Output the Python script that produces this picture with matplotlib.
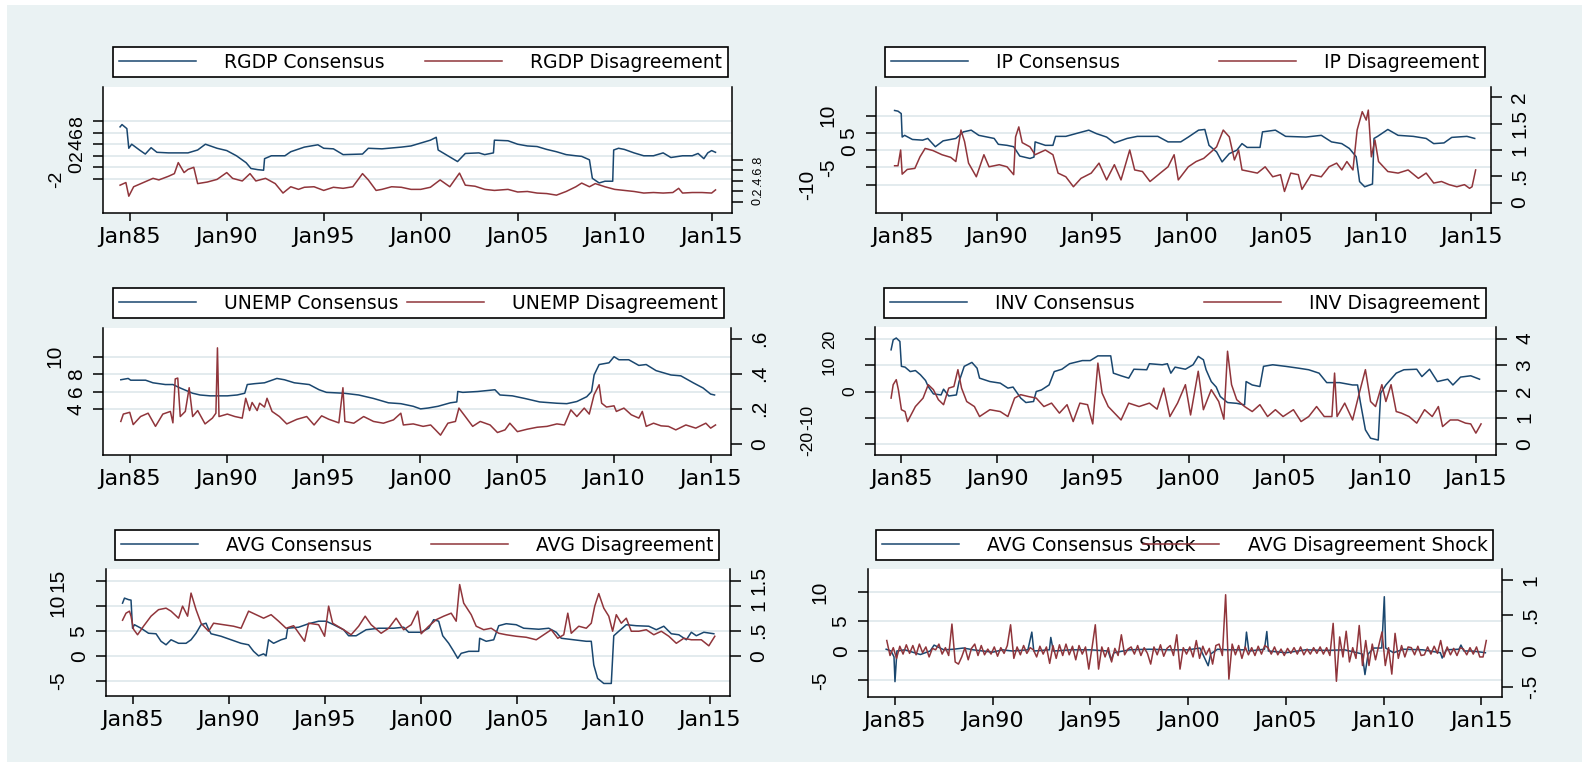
import matplotlib
matplotlib.use("Agg")
import matplotlib.pyplot as plt
from matplotlib.patches import Rectangle
from matplotlib.transforms import ScaledTranslation

plt.rcParams['font.family'] = ['DejaVu Sans']

# ---------------- data (decimal years) ----------------
rgdp_cons_t = [1984.5, 1984.6, 1984.85, 1984.95, 1985.1, 1985.5, 1985.8, 1986.1, 1986.4, 1987.0, 1988.0, 1988.5,
               1988.9, 1989.5, 1990.0, 1990.5, 1991.0, 1991.25, 1991.6, 1991.9, 1991.95, 1992.3, 1993.0, 1993.3,
               1994.0, 1994.7, 1995.0, 1995.5, 1996.0, 1997.0, 1997.3, 1998.0, 1999.0, 1999.5, 2000.0, 2000.5,
               2000.8, 2000.9, 2001.4, 2001.9, 2002.3, 2003.0, 2003.3, 2003.75, 2003.8, 2004.5, 2005.0, 2005.5,
               2006.0, 2006.5, 2007.0, 2007.5, 2008.0, 2008.3, 2008.7, 2008.85, 2009.2, 2009.5, 2009.9, 2009.95,
               2010.2, 2010.5, 2011.0, 2011.5, 2012.0, 2012.5, 2012.9, 2013.5, 2014.0, 2014.3, 2014.6, 2014.8,
               2015.0, 2015.2]
rgdp_cons_v = [7.0, 7.4, 6.7, 3.3, 4.0, 3.0, 2.3, 3.4, 2.6, 2.5, 2.5, 3.0,
               4.0, 3.3, 2.9, 2.0, 0.8, -0.2, -0.4, -0.5, 1.5, 2.0, 2.0, 2.7,
               3.5, 3.9, 3.3, 3.2, 2.2, 2.3, 3.3, 3.2, 3.5, 3.7, 4.2, 4.7,
               5.2, 3.0, 2.0, 1.0, 2.4, 2.5, 2.2, 2.5, 4.7, 4.6, 4.0, 3.7,
               3.6, 3.1, 2.7, 2.2, 2.0, 1.9, 1.3, -1.9, -2.7, -2.4, -2.4, 3.0,
               3.3, 3.1, 2.5, 2.0, 2.0, 2.5, 1.7, 2.0, 2.0, 2.4, 1.5, 2.5,
               2.9, 2.6]
rgdp_dis_t = [1984.5, 1984.8, 1984.95, 1985.2, 1985.7, 1986.2, 1986.5, 1987.0, 1987.3, 1987.5, 1987.8, 1988.0,
              1988.3, 1988.5, 1989.0, 1989.5, 1990.0, 1990.3, 1990.8, 1991.2, 1991.5, 1992.0, 1992.5, 1992.9,
              1993.3, 1993.7, 1994.0, 1994.5, 1995.0, 1995.5, 1996.0, 1996.5, 1997.0, 1997.3, 1997.7, 1998.0,
              1998.5, 1999.0, 1999.5, 2000.0, 2000.5, 2001.0, 2001.5, 2002.0, 2002.3, 2002.8, 2003.3, 2003.8,
              2004.5, 2005.0, 2005.5, 2006.0, 2006.5, 2007.0, 2007.5, 2008.0, 2008.3, 2008.7, 2009.0, 2009.5,
              2010.0, 2010.5, 2011.0, 2011.5, 2012.0, 2012.5, 2013.0, 2013.3, 2013.5, 2014.0, 2014.5, 2015.0,
              2015.2]
rgdp_dis_v = [0.32, 0.37, 0.11, 0.29, 0.37, 0.45, 0.42, 0.49, 0.54, 0.75, 0.56, 0.62,
              0.66, 0.35, 0.38, 0.43, 0.56, 0.45, 0.40, 0.54, 0.40, 0.45, 0.35, 0.17,
              0.29, 0.24, 0.28, 0.29, 0.22, 0.28, 0.26, 0.29, 0.54, 0.42, 0.22, 0.24,
              0.29, 0.28, 0.24, 0.24, 0.28, 0.42, 0.29, 0.55, 0.32, 0.30, 0.24, 0.22,
              0.24, 0.19, 0.20, 0.17, 0.16, 0.13, 0.20, 0.29, 0.36, 0.29, 0.35, 0.29,
              0.24, 0.22, 0.20, 0.17, 0.18, 0.17, 0.18, 0.26, 0.17, 0.18, 0.18, 0.17,
              0.23]

ip_cons_t = [1984.6, 1984.78, 1984.95, 1985.0, 1985.13, 1985.54, 1986.08, 1986.35, 1986.75, 1987.16, 1987.83,
             1988.23, 1988.64, 1989.04, 1989.85, 1990.07, 1990.53, 1990.88, 1991.2, 1991.74, 1991.95, 1992.01,
             1992.55, 1992.95, 1993.09, 1993.63, 1994.16, 1994.84, 1995.24, 1995.78, 1996.19, 1996.86, 1997.4,
             1998.48, 1999.02, 1999.69, 2000.09, 2000.63, 2000.96, 2001.18, 2001.58, 2001.87, 2002.25, 2002.65,
             2002.92, 2003.19, 2003.87, 2004.0, 2004.68, 2005.22, 2006.29, 2007.1, 2007.64, 2008.18, 2008.58,
             2008.94, 2009.12, 2009.39, 2009.8, 2009.88, 2010.07, 2010.61, 2011.15, 2011.95, 2012.63, 2013.03,
             2013.57, 2013.98, 2014.78, 2015.19]
ip_cons_v = [11.5, 11.3, 10.6, 3.8, 4.3, 3.1, 2.9, 3.4, 1.0, 2.7, 3.4,
             5.3, 5.8, 4.3, 3.4, 1.7, 1.4, 1.0, -1.7, -2.4, -2.0, 2.4,
             1.4, 1.4, 4.0, 4.0, 4.8, 5.8, 4.8, 3.8, 2.1, 3.4, 4.0,
             4.0, 2.4, 2.4, 3.8, 5.8, 6.0, 1.4, -0.5, -3.4, -1.0, 0.0,
             1.9, 0.8, 0.8, 5.3, 5.8, 4.0, 3.8, 4.3, 2.4, 1.9, 0.5,
             -1.9, -9.1, -10.6, -9.8, 3.4, 4.0, 6.0, 4.3, 4.0, 3.4, 1.9,
             2.1, 3.7, 4.0, 3.4]
ip_dis_t = [1984.6, 1984.78, 1984.92, 1985.0, 1985.27, 1985.67, 1985.94, 1986.21, 1986.62, 1987.1, 1987.56,
            1987.83, 1988.1, 1988.29, 1988.5, 1988.91, 1989.31, 1989.58, 1990.12, 1990.53, 1990.88, 1990.98,
            1991.15, 1991.33, 1991.74, 1992.01, 1992.55, 1992.95, 1993.22, 1993.63, 1994.03, 1994.43, 1994.97,
            1995.38, 1995.78, 1996.19, 1996.54, 1997.0, 1997.26, 1997.67, 1998.07, 1998.61, 1999.02, 1999.34,
            1999.56, 2000.09, 2000.5, 2000.9, 2001.31, 2001.58, 2001.93, 2002.25, 2002.52, 2002.74, 2002.92,
            2003.33, 2003.73, 2004.14, 2004.54, 2004.95, 2005.16, 2005.49, 2005.89, 2006.08, 2006.56, 2007.1,
            2007.51, 2007.91, 2008.18, 2008.45, 2008.77, 2008.99, 2009.26, 2009.47, 2009.58, 2009.74, 2009.93,
            2010.12, 2010.61, 2011.15, 2011.68, 2012.22, 2012.63, 2013.03, 2013.44, 2013.84, 2014.25, 2014.65,
            2014.92, 2015.05, 2015.24]
ip_dis_v = [0.70, 0.70, 1.00, 0.54, 0.63, 0.65, 0.87, 1.03, 0.99, 0.91, 0.86,
            0.78, 1.38, 1.16, 0.75, 0.49, 0.91, 0.68, 0.72, 0.68, 0.53, 1.25,
            1.44, 1.14, 1.06, 0.91, 1.00, 0.91, 0.56, 0.49, 0.30, 0.46, 0.56,
            0.75, 0.43, 0.72, 0.43, 1.00, 0.62, 0.59, 0.40, 0.56, 0.68, 0.91,
            0.43, 0.68, 0.78, 0.84, 0.97, 1.06, 1.38, 1.25, 0.81, 1.00, 0.62,
            0.59, 0.56, 0.68, 0.49, 0.53, 0.21, 0.56, 0.53, 0.25, 0.53, 0.49,
            0.68, 0.75, 0.62, 0.78, 0.62, 1.38, 1.73, 1.57, 1.76, 0.87, 1.19,
            0.78, 0.59, 0.56, 0.62, 0.46, 0.56, 0.37, 0.40, 0.34, 0.30, 0.34,
            0.27, 0.30, 0.62]

unemp_cons_t = [1984.54, 1984.92, 1985.05, 1985.82, 1986.2, 1986.84, 1987.23, 1987.61, 1988.25, 1988.63, 1989.15,
                1990.04, 1990.55, 1990.94, 1991.07, 1991.45, 1991.96, 1992.6, 1992.99, 1993.5, 1994.27, 1994.78,
                1995.16, 1996.06, 1996.82, 1997.59, 1998.36, 1999.0, 1999.64, 2000.02, 2000.41, 2000.92, 2001.56,
                2001.89, 2001.94, 2002.2, 2002.97, 2003.86, 2004.12, 2004.76, 2005.4, 2006.17, 2007.06, 2007.57,
                2008.09, 2008.6, 2008.85, 2008.98, 2009.24, 2009.75, 2010.01, 2010.26, 2010.77, 2011.29, 2011.67,
                2012.18, 2012.95, 2013.46, 2014.1, 2014.61, 2015.0, 2015.2]
unemp_cons_v = [7.35, 7.5, 7.3, 7.3, 7.0, 6.8, 6.8, 6.4, 5.8, 5.6, 5.5,
                5.5, 5.6, 5.8, 6.8, 6.9, 7.0, 7.5, 7.35, 7.0, 6.8, 6.2,
                5.9, 5.8, 5.6, 5.2, 4.7, 4.6, 4.3, 4.0, 4.1, 4.3, 4.7,
                4.8, 6.0, 5.9, 6.0, 6.2, 5.6, 5.5, 5.2, 4.8, 4.65, 4.6,
                4.85, 5.4, 6.0, 7.9, 9.1, 9.3, 10.0, 9.65, 9.65, 9.0, 9.1,
                8.4, 7.9, 7.8, 7.0, 6.4, 5.7, 5.6]
unemp_dis_t = [1984.54, 1984.67, 1985.0, 1985.18, 1985.56, 1985.95, 1986.33, 1986.71, 1987.1, 1987.23, 1987.35,
               1987.48, 1987.61, 1987.87, 1988.07, 1988.25, 1988.51, 1988.89, 1989.27, 1989.45, 1989.53, 1989.61,
               1990.04, 1990.43, 1990.81, 1990.99, 1991.19, 1991.32, 1991.58, 1991.71, 1991.96, 1992.09, 1992.35,
               1992.73, 1993.11, 1993.63, 1994.14, 1994.52, 1994.91, 1995.29, 1995.8, 1996.01, 1996.11, 1996.57,
               1997.08, 1997.59, 1998.1, 1998.62, 1999.0, 1999.13, 1999.64, 2000.15, 2000.54, 2000.79, 2001.05,
               2001.43, 2001.82, 2002.0, 2002.33, 2002.71, 2003.1, 2003.61, 2003.99, 2004.38, 2004.63, 2005.02,
               2005.53, 2006.04, 2006.55, 2007.06, 2007.45, 2007.78, 2008.09, 2008.47, 2008.73, 2008.98, 2009.24,
               2009.37, 2009.62, 2010.01, 2010.13, 2010.52, 2010.9, 2011.29, 2011.47, 2011.67, 2012.05, 2012.44,
               2012.82, 2013.2, 2013.72, 2014.23, 2014.75, 2015.0, 2015.25]
unemp_dis_v = [0.128, 0.17, 0.18, 0.11, 0.156, 0.175, 0.10, 0.17, 0.185, 0.12, 0.37,
               0.375, 0.156, 0.185, 0.32, 0.156, 0.19, 0.114, 0.147, 0.175, 0.547, 0.156,
               0.17, 0.156, 0.147, 0.26, 0.19, 0.236, 0.19, 0.232, 0.21, 0.26, 0.185,
               0.156, 0.114, 0.14, 0.156, 0.108, 0.16, 0.14, 0.12, 0.32, 0.128, 0.118,
               0.156, 0.128, 0.118, 0.137, 0.175, 0.108, 0.114, 0.10, 0.108, 0.08, 0.05,
               0.118, 0.128, 0.204, 0.156, 0.10, 0.128, 0.108, 0.065, 0.08, 0.118, 0.07,
               0.084, 0.095, 0.10, 0.114, 0.108, 0.194, 0.156, 0.204, 0.17, 0.28, 0.337,
               0.232, 0.21, 0.217, 0.185, 0.204, 0.166, 0.147, 0.185, 0.10, 0.118, 0.103,
               0.10, 0.08, 0.108, 0.09, 0.118, 0.09, 0.108]

inv_cons_t = [1984.46, 1984.57, 1984.73, 1984.92, 1985.0, 1985.19, 1985.46, 1985.73, 1985.99, 1986.26, 1986.4,
              1986.67, 1987.07, 1987.2, 1987.47, 1987.87, 1988.01, 1988.28, 1988.68, 1988.95, 1989.08, 1989.62,
              1990.16, 1990.56, 1990.83, 1991.23, 1991.5, 1991.9, 1992.04, 1992.31, 1992.71, 1992.98, 1993.38,
              1993.78, 1994.45, 1994.86, 1995.26, 1995.93, 1996.07, 1996.47, 1996.87, 1997.14, 1997.81, 1997.95,
              1998.62, 1998.89, 1999.07, 1999.29, 1999.83, 2000.23, 2000.5, 2000.77, 2000.91, 2001.18, 2001.44,
              2001.65, 2002.03, 2002.51, 2002.92, 2003.0, 2003.32, 2003.72, 2003.91, 2004.39, 2005.06, 2005.74,
              2006.27, 2006.81, 2007.21, 2007.88, 2008.56, 2008.82, 2008.96, 2009.23, 2009.5, 2009.9, 2010.03,
              2010.3, 2010.84, 2011.24, 2011.91, 2012.18, 2012.58, 2012.99, 2013.53, 2013.8, 2014.2, 2014.73,
              2015.19]
inv_cons_v = [15.9, 19.7, 20.4, 19.1, 9.6, 9.3, 7.6, 8.0, 6.4, 4.2, 1.9,
              -0.9, -1.3, 0.9, -1.7, -1.3, 3.8, 9.6, 11.1, 8.9, 5.1, 3.8,
              3.2, 1.3, 1.7, -2.5, -4.2, -3.8, 0.0, 0.6, 2.5, 7.6, 8.5,
              10.6, 11.8, 11.8, 13.6, 13.6, 7.0, 6.0, 5.1, 8.5, 8.3, 10.6,
              10.2, 10.6, 7.0, 9.3, 8.5, 10.2, 13.4, 12.1, 8.3, 3.8, 1.7,
              -1.9, -4.2, -4.5, -5.1, 3.8, 2.5, 1.9, 9.6, 10.2, 9.6, 8.9,
              8.3, 7.0, 3.4, 3.4, 2.5, 2.5, -3.8, -14.6, -17.8, -18.5, -0.6,
              2.5, 7.0, 8.3, 8.5, 5.7, 8.5, 3.8, 4.7, 2.5, 5.5, 6.0,
              4.7]
inv_dis_t = [1984.46, 1984.57, 1984.73, 1984.84, 1985.0, 1985.19, 1985.32, 1985.73, 1986.13, 1986.4, 1986.67,
             1986.93, 1987.2, 1987.47, 1987.74, 1987.95, 1988.14, 1988.41, 1988.81, 1989.08, 1989.62, 1990.16,
             1990.56, 1990.91, 1991.23, 1991.63, 1992.04, 1992.44, 1992.84, 1993.25, 1993.65, 1993.97, 1994.32,
             1994.72, 1994.99, 1995.26, 1995.48, 1995.8, 1996.47, 1996.87, 1997.41, 1997.95, 1998.35, 1998.7,
             1999.02, 1999.42, 1999.83, 2000.1, 2000.5, 2000.77, 2001.18, 2001.57, 2001.84, 2002.03, 2002.24,
             2002.51, 2002.92, 2003.32, 2003.72, 2004.12, 2004.53, 2004.93, 2005.47, 2005.87, 2006.27, 2006.68,
             2007.08, 2007.48, 2007.62, 2007.75, 2008.15, 2008.56, 2008.91, 2009.23, 2009.5, 2009.76, 2010.09,
             2010.3, 2010.57, 2010.84, 2011.11, 2011.51, 2011.91, 2012.32, 2012.72, 2013.04, 2013.26, 2013.66,
             2014.06, 2014.46, 2014.73, 2015.0, 2015.27]
inv_dis_v = [1.74, 2.25, 2.44, 2.06, 1.30, 1.23, 0.85, 1.42, 1.74, 2.25, 2.06,
             1.68, 1.49, 2.12, 2.18, 2.82, 2.12, 1.61, 1.42, 1.04, 1.30, 1.23,
             1.04, 1.74, 1.87, 1.80, 1.74, 1.42, 1.55, 1.17, 1.49, 0.85, 1.55,
             1.49, 0.76, 3.07, 1.93, 1.42, 0.91, 1.55, 1.42, 1.55, 1.32, 2.12,
             1.04, 1.55, 2.25, 1.10, 2.76, 1.30, 2.06, 1.61, 0.94, 3.52, 2.25,
             1.68, 1.42, 1.23, 1.49, 1.04, 1.30, 1.04, 1.30, 0.85, 1.04, 1.42,
             1.04, 1.04, 2.69, 1.04, 1.55, 0.91, 1.93, 2.82, 1.61, 1.42, 2.25,
             1.61, 2.25, 1.23, 1.17, 1.04, 0.79, 1.30, 1.04, 1.42, 0.66, 0.91,
             0.91, 0.79, 0.76, 0.41, 0.76]

avg_cons_t = [1984.48, 1984.58, 1984.79, 1984.92, 1985.0, 1985.1, 1985.44, 1985.83, 1986.22, 1986.48, 1986.74,
              1987.0, 1987.39, 1987.78, 1988.04, 1988.3, 1988.56, 1988.82, 1988.95, 1989.08, 1989.6, 1990.12,
              1990.64, 1991.03, 1991.29, 1991.55, 1991.81, 1991.94, 1992.07, 1992.33, 1992.72, 1992.98, 1993.06,
              1993.63, 1994.15, 1994.67, 1995.06, 1995.45, 1995.97, 1996.23, 1996.62, 1997.14, 1997.79, 1998.57,
              1999.09, 1999.35, 2000.0, 2000.39, 2000.65, 2000.91, 2001.12, 2001.43, 2001.69, 2001.9, 2002.08,
              2002.47, 2002.99, 2003.04, 2003.38, 2003.77, 2004.03, 2004.42, 2004.94, 2005.33, 2006.11, 2006.63,
              2007.02, 2007.28, 2007.93, 2008.58, 2008.84, 2008.97, 2009.17, 2009.49, 2009.88, 2010.01, 2010.27,
              2010.66, 2011.18, 2011.83, 2012.22, 2012.61, 2013.0, 2013.39, 2013.78, 2014.04, 2014.3, 2014.69,
              2015.21]
avg_cons_v = [10.5, 11.5, 11.2, 11.1, 5.5, 6.2, 5.5, 4.5, 4.4, 2.9, 2.2,
              3.2, 2.5, 2.5, 3.2, 4.5, 6.2, 6.5, 5.3, 4.4, 3.9, 3.2,
              2.5, 2.2, 0.9, 0.0, 0.4, 0.0, 3.2, 2.5, 3.2, 3.5, 5.5,
              5.7, 6.4, 6.9, 6.9, 6.2, 5.2, 4.0, 4.0, 5.2, 5.5, 5.5,
              5.7, 4.7, 4.7, 5.5, 7.2, 6.9, 4.0, 2.5, 0.9, -0.5, 0.5,
              0.9, 0.9, 3.5, 2.9, 3.2, 6.0, 6.4, 6.2, 5.5, 5.3, 5.5,
              4.7, 3.5, 3.2, 2.9, 2.9, -1.8, -4.5, -5.5, -5.5, 4.0, 4.9,
              6.2, 6.0, 5.9, 5.2, 5.9, 4.4, 4.2, 3.2, 4.7, 4.0, 4.7,
              4.4]
avg_dis_t = [1984.48, 1984.66, 1984.84, 1984.92, 1985.05, 1985.26, 1985.57, 1985.96, 1986.35, 1986.74, 1987.0,
             1987.39, 1987.6, 1987.86, 1988.04, 1988.3, 1988.56, 1988.95, 1989.21, 1989.73, 1990.25, 1990.64,
             1991.03, 1991.42, 1991.81, 1992.2, 1992.59, 1992.98, 1993.37, 1993.94, 1994.15, 1994.67, 1994.98,
             1995.19, 1995.4, 1995.97, 1996.36, 1996.75, 1997.09, 1997.4, 1997.92, 1998.31, 1998.7, 1999.09,
             1999.48, 1999.82, 2000.0, 2000.39, 2000.78, 2001.17, 2001.56, 2001.82, 2002.0, 2002.21, 2002.6,
             2002.86, 2003.25, 2003.64, 2004.03, 2004.42, 2004.94, 2005.46, 2005.98, 2006.37, 2006.76, 2007.1,
             2007.41, 2007.62, 2007.8, 2008.19, 2008.58, 2008.84, 2009.02, 2009.23, 2009.49, 2009.75, 2009.95,
             2010.14, 2010.4, 2010.66, 2010.92, 2011.31, 2011.7, 2012.09, 2012.48, 2012.87, 2013.26, 2013.65,
             2014.04, 2014.56, 2014.95, 2015.26]
avg_dis_v = [0.71, 0.85, 0.89, 0.79, 0.53, 0.42, 0.59, 0.79, 0.92, 0.95, 0.89,
             0.75, 0.99, 0.79, 1.25, 0.92, 0.65, 0.49, 0.65, 0.62, 0.59, 0.55,
             0.89, 0.82, 0.75, 0.82, 0.69, 0.55, 0.60, 0.29, 0.65, 0.62, 0.39,
             0.99, 0.65, 0.52, 0.42, 0.59, 0.79, 0.62, 0.45, 0.55, 0.75, 0.52,
             0.62, 0.89, 0.44, 0.59, 0.72, 0.79, 0.85, 0.69, 1.42, 1.05, 0.82,
             0.59, 0.52, 0.55, 0.45, 0.42, 0.39, 0.37, 0.32, 0.42, 0.52, 0.35,
             0.42, 0.85, 0.45, 0.59, 0.55, 0.65, 0.99, 1.24, 0.95, 0.79, 0.49,
             0.82, 0.65, 0.75, 0.49, 0.49, 0.52, 0.42, 0.49, 0.39, 0.25, 0.35,
             0.32, 0.32, 0.20, 0.39]

shock_cons_t = [1984.55, 1984.8, 1984.95, 1985.0, 1985.1, 1985.5, 1986.0, 1986.3, 1986.8, 1987.0, 1987.5,
                1988.0, 1988.5, 1989.0, 1990.0, 1990.5, 1991.0, 1991.8, 1992.0, 1992.1, 1992.9, 1992.97,
                1993.1, 1994.0, 1995.0, 1995.9, 1996.05, 1996.2, 1997.0, 1998.0, 1999.0, 2000.0, 2000.6,
                2001.02, 2001.15, 2001.5, 2002.0, 2002.9, 2002.98, 2003.1, 2003.9, 2004.02, 2004.1, 2005.0,
                2006.0, 2007.0, 2008.0, 2008.9, 2009.04, 2009.2, 2009.5, 2009.9, 2010.03, 2010.1, 2010.5,
                2011.0, 2012.0, 2012.9, 2012.99, 2013.2, 2013.85, 2013.95, 2014.1, 2014.5, 2015.0, 2015.2]
shock_cons_v = [0.3, 0.0, -1.0, -5.2, 0.0, 0.2, -0.3, -0.6, 0.0, 1.0, 0.2,
                0.3, 0.5, 0.2, -0.2, 0.2, 0.0, 0.2, 3.2, 0.0, 0.2, 2.3,
                0.0, 0.2, 0.2, 0.0, -1.5, -0.3, 0.2, 0.3, 0.2, 0.2, 0.5,
                -2.5, -0.5, 0.3, 0.2, 0.2, 3.2, 0.0, 0.3, 3.3, 0.0, -0.3,
                0.2, 0.1, 0.2, -0.5, -4.0, -0.5, 0.5, 0.5, 9.2, 0.5, -0.3,
                0.3, 0.2, -0.3, -1.2, 0.2, 0.3, 1.0, 0.0, 0.0, -0.2, -0.3]
# disagreement shock, every two months from Aug 1984
shock_dis_start = 1984.58
shock_dis_v = [0.15, -0.06, 0.05,
               -0.10, 0.07, -0.04, 0.09, -0.03, 0.08,
               -0.05, 0.10, -0.02, 0.06, -0.08, 0.04,
               0.02, 0.10, -0.04, 0.05, -0.06, 0.38,
               -0.15, -0.18, -0.08, 0.05, -0.12, 0.04,
               0.10, -0.06, 0.08, -0.05, 0.03, -0.04,
               0.06, -0.07, 0.05, -0.03, 0.08, 0.37,
               -0.10, 0.06, -0.05, 0.08, -0.03, 0.05,
               0.02, -0.08, 0.07, -0.04, 0.06, -0.17,
               0.08, -0.10, 0.09, -0.06, 0.10, -0.05,
               0.07, -0.12, 0.08, -0.04, 0.06, -0.25,
               0.05, 0.37, -0.25, 0.06, -0.08, 0.05,
               -0.15, 0.04, -0.06, 0.23, -0.05, 0.03,
               0.06, -0.04, 0.08, -0.06, 0.05, -0.03,
               -0.18, 0.06, -0.05, 0.09, -0.07, 0.04,
               0.08, -0.06, 0.23, -0.25, 0.05, -0.04,
               0.06, -0.08, 0.15, -0.10, 0.07, -0.05,
               0.04, -0.18, 0.08, 0.10, -0.06, 0.79,
               -0.39, 0.10, -0.05, 0.08, -0.10, 0.06,
               -0.05, 0.05, -0.06, 0.07, -0.04, 0.08,
               0.05, -0.04, 0.06, -0.05, 0.03, -0.06,
               0.04, -0.03, 0.05, -0.04, 0.06, -0.05,
               0.03, -0.04, 0.05, -0.03, 0.06, -0.04,
               0.05, -0.06, 0.39, -0.42, 0.20, -0.08,
               0.28, -0.15, 0.05, -0.10, 0.36, -0.20,
               0.15, -0.20, 0.10, -0.12, 0.08, 0.27,
               -0.20, 0.05, -0.32, 0.25, -0.10, 0.08,
               -0.08, 0.06, 0.05, -0.05, 0.07, -0.06,
               -0.05, 0.06, -0.04, 0.07, -0.03, 0.15,
               -0.08, 0.06, -0.05, 0.04, -0.06, 0.05,
               0.03, -0.05, 0.05, -0.04, 0.06, -0.08,
               -0.08, 0.15]
shock_dis_t = [shock_dis_start + i / 6.0 for i in range(len(shock_dis_v))]

x_ticks = [1985, 1990, 1995, 2000, 2005, 2010, 2015]
x_labels = ["Jan85", "Jan90", "Jan95", "Jan00", "Jan05", "Jan10", "Jan15"]

# ---------------- styling / layout ----------------
W, H = 1582, 762
BLUE = "#1a476f"
RED = "#90353b"
BG = "#eaf2f3"
GRID = "#e3ebee"
YFONT = "Liberation Sans"

fig = plt.figure(figsize=(W / 100, H / 100), dpi=100)
fig.patch.set_facecolor("white")
fig.add_artist(Rectangle((7 / W, 0), 1, 1 - 5 / H, transform=fig.transFigure,
                         facecolor=BG, edgecolor="none", zorder=-5))


def ax_box(l, r, t, b):
    return [l / W, 1 - b / H, (r - l) / W, (b - t) / H]


panels = [
    dict(box=(103, 732, 87, 213), leg=(113, 728, 47, 80),
         ct=rgdp_cons_t, cv=rgdp_cons_v, dt=rgdp_dis_t, dv=rgdp_dis_v,
         lt=[-2, 0, 2, 4, 6, 8], ll=["-2", "0", "2", "4", "6", "8"], lylim=(-7.9, 13.9), lfs=14,
         rt=[0, .2, .4, .6, .8], rl=["0", ".2", ".4", ".6", ".8"], rylim=(-0.21, 2.19), rfs=9,
         names=("RGDP Consensus", "RGDP Disagreement")),
    dict(box=(876, 1491, 87, 213), leg=(885, 1485, 47, 80),
         ct=ip_cons_t, cv=ip_cons_v, dt=ip_dis_t, dv=ip_dis_v,
         lt=[-10, -5, 0, 5, 10], ll=["-10", "-5", "0", "5", "10"], lylim=(-18.2, 18.3), lfs=15,
         rt=[0, .5, 1, 1.5, 2], rl=["0", ".5", "1", "1.5", "2"], rylim=(-0.2, 2.2), rfs=15,
         names=("IP Consensus", "IP Disagreement")),
    dict(box=(103, 731, 328, 455), leg=(113, 724, 288, 321),
         ct=unemp_cons_t, cv=unemp_cons_v, dt=unemp_dis_t, dv=unemp_dis_v,
         lt=[4, 6, 8, 10], ll=["4", "6", "8", "10"], lylim=(-1.3, 13.3), lfs=15,
         rt=[0, .2, .4, .6], rl=["0", ".2", ".4", ".6"], rylim=(-0.063, 0.66), rfs=15,
         names=("UNEMP Consensus", "UNEMP Disagreement")),
    dict(box=(875, 1496, 327, 455), leg=(884, 1486, 288, 321),
         ct=inv_cons_t, cv=inv_cons_v, dt=inv_dis_t, dv=inv_dis_v,
         lt=[-20, -10, 0, 10, 20], ll=["-20", "-10", "0", "10", "20"], lylim=(-24.2, 24.6), lfs=12.5,
         rt=[0, 1, 2, 3, 4], rl=["0", "1", "2", "3", "4"], rylim=(-0.42, 4.44), rfs=15,
         names=("INV Consensus", "INV Disagreement")),
    dict(box=(106, 730, 569, 696), leg=(115, 719, 530, 563),
         ct=avg_cons_t, cv=avg_cons_v, dt=avg_dis_t, dv=avg_dis_v,
         lt=[-5, 0, 5, 10, 15], ll=["-5", "0", "5", "10", "15"], lylim=(-8.0, 17.3), lfs=15,
         rt=[0, .5, 1, 1.5], rl=["0", ".5", "1", "1.5"], rylim=(-0.8, 1.73), rfs=15,
         names=("AVG Consensus", "AVG Disagreement")),
    dict(box=(868, 1502, 569, 697), leg=(876, 1493, 530, 563),
         ct=shock_cons_t, cv=shock_cons_v, dt=shock_dis_t, dv=shock_dis_v,
         lt=[-5, 0, 5, 10], ll=["-5", "0", "5", "10"], lylim=(-7.8, 13.9), lfs=15,
         rt=[-.5, 0, .5, 1], rl=["-.5", "0", ".5", "1"], rylim=(-0.64, 1.15), rfs=15,
         names=("AVG Consensus Shock", "AVG Disagreement Shock")),
]

for p in panels:
    ax = fig.add_axes(ax_box(*p["box"]))
    ax2 = ax.twinx()
    ax.set_facecolor("white")
    l1, = ax.plot(p["ct"], p["cv"], color=BLUE, lw=1.1)
    l2, = ax2.plot(p["dt"], p["dv"], color=RED, lw=1.1)
    ax.set_xlim(1983.62, 2016.05)
    ax.set_ylim(*p["lylim"])
    ax2.set_ylim(*p["rylim"])
    ax.set_yticks(p["lt"])
    ax.set_yticklabels(p["ll"], rotation=90, va="center", fontfamily=YFONT, fontsize=p["lfs"])
    ax2.set_yticks(p["rt"])
    ax2.set_yticklabels(p["rl"], rotation=90, va="center", fontfamily=YFONT, fontsize=p["rfs"])
    ax.set_xticks(x_ticks)
    ax.set_xticklabels(x_labels, fontsize=16)
    ax.grid(axis="y", color=GRID, lw=1.4)
    ax.set_axisbelow(True)
    for a in (ax, ax2):
        a.spines["top"].set_visible(False)
        for s in ("left", "right", "bottom"):
            a.spines[s].set_linewidth(1.1)
            a.spines[s].set_color("black")
    ax.spines["right"].set_visible(False)
    ax2.spines["left"].set_visible(False)
    ax2.spines["bottom"].set_visible(False)
    ax.tick_params(axis="x", direction="out", length=6, width=1.1, pad=4)
    ax.tick_params(axis="y", direction="out", length=7.5, width=1.1, pad=5)
    ax2.tick_params(axis="y", direction="out", length=8, width=1.1, pad=6)
    # longer left-axis labels sit further from the axis, as in the reference
    for lab in ax.get_yticklabels():
        n = len(lab.get_text())
        if n > 1:
            lab.set_transform(lab.get_transform() +
                              ScaledTranslation(-(n - 1) * 0.21, 0, fig.dpi_scale_trans))

    lx0, lx1, ly0, ly1 = p["leg"]
    leg = fig.legend([l1, l2], list(p["names"]), ncol=2, mode="expand",
                     loc="upper left",
                     bbox_to_anchor=(lx0 / W, 1 - ly0 / H, (lx1 - lx0) / W, 0),
                     bbox_transform=fig.transFigure,
                     fontsize=13.5, frameon=True, fancybox=False, framealpha=1,
                     edgecolor="black", facecolor="white", borderpad=0.3,
                     handlelength=4.1, handletextpad=1.5, borderaxespad=0,
                     columnspacing=1.0)
    leg.get_frame().set_linewidth(1.2)

fig.savefig("out.png", dpi=100, facecolor=fig.get_facecolor())
